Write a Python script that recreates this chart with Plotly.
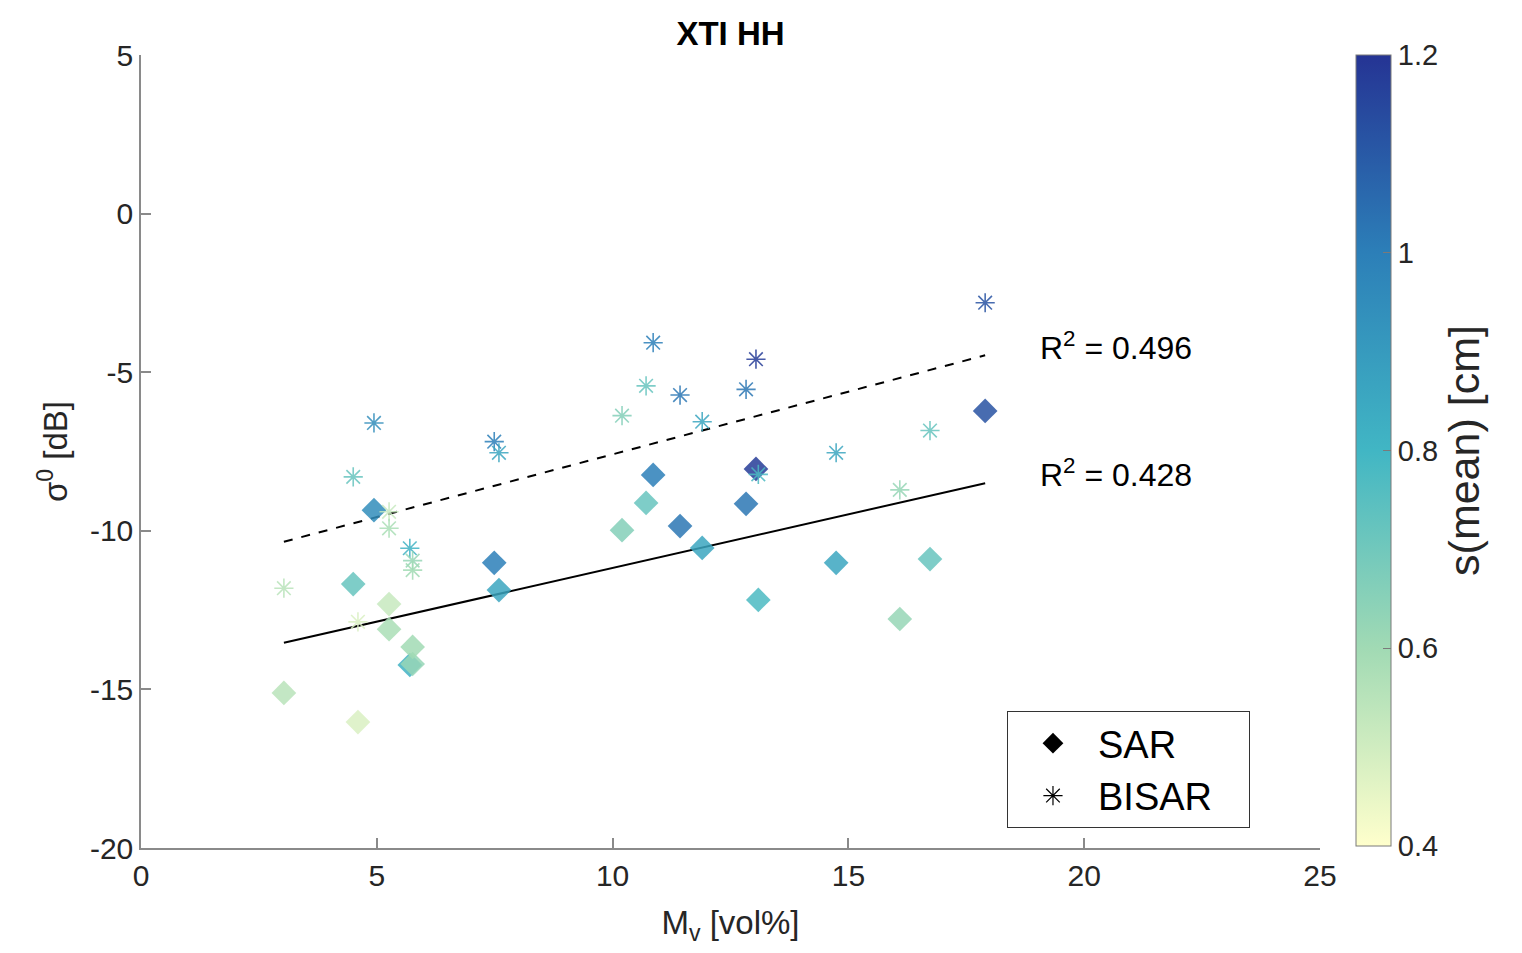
import numpy as np
import plotly.graph_objects as go

# ---- data ----
mv = [3.03, 4.60, 4.50, 4.94, 5.26, 5.26, 5.70, 5.76, 5.76, 7.49, 7.59,
      10.20, 10.71, 10.86, 11.43, 11.90, 13.04, 12.83, 13.09, 14.74, 16.09,
      16.73, 17.90]
sar = [-15.11, -16.03, -11.68, -9.35, -12.31, -13.10, -14.23, -14.20, -13.66,
       -11.01, -11.87, -9.98, -9.12, -8.24, -9.85, -10.54, -8.05, -9.15,
       -12.18, -11.01, -12.78, -10.89, -6.22]
bisar = [-11.81, -12.87, -8.30, -6.60, -9.40, -9.92, -10.55, -10.94, -11.24,
         -7.19, -7.54, -6.37, -5.43, -4.07, -5.72, -6.56, -4.59, -5.54,
         -8.22, -7.54, -8.71, -6.84, -2.81]
s_mean = [0.55, 0.48, 0.72, 0.95, 0.52, 0.58, 0.82, 0.62, 0.60, 1.00, 0.86,
          0.66, 0.72, 1.00, 1.02, 0.86, 1.18, 1.02, 0.78, 0.86, 0.62, 0.72,
          1.12]
r2_sar = 0.428
r2_bisar = 0.496
x_ticks = [0, 5, 10, 15, 20, 25]
y_ticks = [-20, -15, -10, -5, 0, 5]
y_ticktext = ["-20", "-15", "-10", "-5", "0", "5"]
cb_ticks = [0.4, 0.6, 0.8, 1.0, 1.2]

FONT = "Liberation Sans, Arial, Helvetica, sans-serif"
TXT = "#262626"
AX = "#8a8a8a"
cscale = [[0.0, "#ffffcc"], [0.25, "#a1dab4"], [0.5, "#41b6c4"],
          [0.75, "#2c7fb8"], [1.0, "#253494"]]

W, H = 1514, 945

fig = go.Figure()

# regression lines computed from the data
xs = np.array([min(mv), max(mv)])
pb = np.polyfit(mv, bisar, 1)
ps = np.polyfit(mv, sar, 1)
fig.add_trace(go.Scatter(x=xs, y=np.polyval(pb, xs), mode="lines",
                         line=dict(color="black", width=2, dash="dash"),
                         showlegend=False, hoverinfo="skip"))
fig.add_trace(go.Scatter(x=xs, y=np.polyval(ps, xs), mode="lines",
                         line=dict(color="black", width=2),
                         showlegend=False, hoverinfo="skip"))

fig.add_trace(go.Scatter(
    x=mv, y=sar, mode="markers", showlegend=False,
    marker=dict(symbol="diamond", size=19, color=s_mean, colorscale=cscale,
                cmin=0.4, cmax=1.2, opacity=0.85, line=dict(width=0),
                showscale=True,
                colorbar=dict(
                    x=1.0305, xanchor="left", y=1.0, yanchor="top",
                    len=0.997, lenmode="fraction", thickness=35,
                    xpad=0, ypad=0, outlinewidth=1, outlinecolor="#7a7a7a",
                    tickvals=cb_ticks, ticks="inside", ticklen=8,
                    tickcolor="#7a7a7a",
                    tickfont=dict(family=FONT, size=29, color=TXT),
                    title=dict(text="s(mean) [cm]", side="right",
                               font=dict(family=FONT, size=43, color=TXT))))))
fig.add_trace(go.Scatter(
    x=mv, y=bisar, mode="markers", showlegend=False,
    marker=dict(symbol="asterisk-open", size=16, color=s_mean,
                colorscale=cscale, cmin=0.4, cmax=1.2, opacity=0.85,
                line=dict(width=1.6))))

# legend entries
fig.add_trace(go.Scatter(x=[None], y=[None], mode="markers", name="SAR   ",
                         marker=dict(symbol="diamond", size=16, color="black")))
fig.add_trace(go.Scatter(x=[None], y=[None], mode="markers", name="BISAR   ",
                         marker=dict(symbol="asterisk-open", size=16,
                                     color="black", line=dict(width=1.2, color="black"))))

fig.add_annotation(x=19.02, y=-4.17, xref="x", yref="y", xanchor="left",
                   yanchor="middle", showarrow=False,
                   text=f"R<sup>2</sup> = {r2_bisar}",
                   font=dict(family=FONT, size=32, color="black"))
fig.add_annotation(x=19.02, y=-8.18, xref="x", yref="y", xanchor="left",
                   yanchor="middle", showarrow=False,
                   text=f"R<sup>2</sup> = {r2_sar}",
                   font=dict(family=FONT, size=32, color="black"))

fig.update_layout(
    width=W, height=H,
    margin=dict(l=133, r=202, t=47, b=105),
    paper_bgcolor="white", plot_bgcolor="white",
    font=dict(family=FONT, color=TXT),
    title=dict(text="<b>XTI HH</b>", x=(141 + 1320) / 2 / W - 8 / W, xanchor="center",
               y=1 - 25 / H, yanchor="middle",
               font=dict(family=FONT, size=33, color="black")),
    legend=dict(x=0.7345, y=0.1728, xanchor="left", yanchor="top",
                bgcolor="white", bordercolor="#333333", borderwidth=1,
                font=dict(family=FONT, size=38, color="black"),
                itemwidth=80, tracegroupgap=0),
    xaxis=dict(range=[0, 25], tickvals=x_ticks, showgrid=False, zeroline=False,
               showline=True, linecolor=AX, linewidth=1.5, ticks="inside",
               ticklen=10, tickcolor=AX, tickwidth=1.5,
               tickfont=dict(family=FONT, size=30, color=TXT),
               title=dict(text="M<sub>v</sub> [vol%]", standoff=20,
                          font=dict(family=FONT, size=33, color=TXT))),
    yaxis=dict(range=[-20, 5], tickvals=y_ticks, ticktext=y_ticktext,
               showgrid=False, zeroline=False,
               showline=True, linecolor=AX, linewidth=1.5, ticks="inside",
               ticklen=10, tickcolor=AX, tickwidth=1.5,
               tickfont=dict(family=FONT, size=30, color=TXT),
               title=dict(text="σ<sup>0</sup> [dB]", standoff=12,
                          font=dict(family=FONT, size=33, color=TXT))),
)

fig.write_html("out.html")
